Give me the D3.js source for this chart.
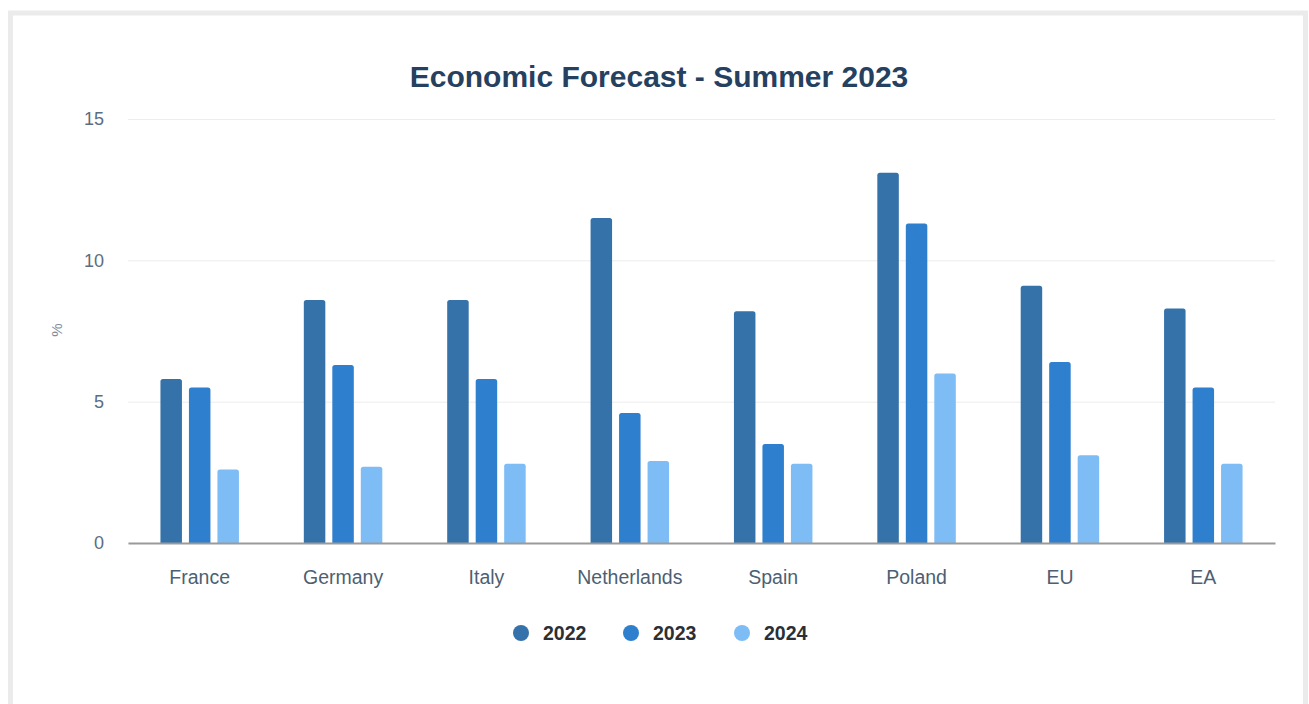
<!DOCTYPE html>
<html>
<head>
<meta charset="utf-8">
<script src="https://cdn.jsdelivr.net/npm/d3@7"></script>
<style>
  body { margin: 0; background: #fff; font-family: "Liberation Sans", Arial, sans-serif; }
  #chart { position: absolute; left: 0; top: 0; }
</style>
</head>
<body>
<div id="chart"></div>
<script>
const categories = ['France', 'Germany', 'Italy', 'Netherlands', 'Spain', 'Poland', 'EU', 'EA'];
const years = ['2022', '2023', '2024'];
const values2022 = [5.8, 8.6, 8.6, 11.5, 8.2, 13.1, 9.1, 8.3];
const values2023 = [5.5, 6.3, 5.8, 4.6, 3.5, 11.3, 6.4, 5.5];
const values2024 = [2.6, 2.7, 2.8, 2.9, 2.8, 6.0, 3.1, 2.8];
const yTicks = [0, 5, 10, 15];
const colors = ['#3572aa', '#2e7fcd', '#7dbcf5'];

const series = [values2022, values2023, values2024];
const data = categories.map((c, i) => ({
    category: c,
    values: years.map((y, j) => ({ year: y, value: series[j][i] }))
}));

const W = 1309, H = 704;
const margin = { top: 119, right: 34, bottom: 161, left: 128 },
      width = W - margin.left - margin.right,
      height = H - margin.top - margin.bottom;

const svg = d3.select('#chart').append('svg')
    .attr('width', W)
    .attr('height', H);

// panel frame
svg.append('rect')
   .attr('x', 10.5).attr('y', 13)
   .attr('width', 1295).attr('height', 720)
   .attr('fill', '#fff')
   .attr('stroke', '#ebebeb')
   .attr('stroke-width', 5);

svg.append('text')
   .attr('x', 659).attr('y', 87)
   .attr('text-anchor', 'middle')
   .attr('font-size', 30)
   .attr('font-weight', 'bold')
   .attr('fill', '#26405f')
   .text('Economic Forecast - Summer 2023');

const g = svg.append('g').attr('transform', `translate(${margin.left},${margin.top})`);

const x0 = d3.scaleBand().domain(categories).range([0, width]).paddingInner(0.4526).paddingOuter(0.2263);
const x1 = d3.scaleBand().domain(years).range([0, x0.bandwidth()]).paddingInner(0.2456).paddingOuter(0);
const y = d3.scaleLinear().domain([0, 15]).range([height, 0]);
const color = d3.scaleOrdinal().domain(years).range(colors);

// gridlines + y labels
const yAxis = g.append('g')
    .call(d3.axisLeft(y).tickValues(yTicks).tickSize(-width).tickPadding(24));
yAxis.select('.domain').remove();
yAxis.selectAll('.tick line').attr('stroke', '#ececec');
yAxis.selectAll('.tick text')
     .attr('fill', '#5b6d82')
     .attr('font-size', 18)
     .attr('font-family', '"Liberation Sans", Arial, sans-serif');

svg.append('text')
   .attr('transform', 'translate(62,330) rotate(-90)')
   .attr('text-anchor', 'middle')
   .attr('font-size', 15)
   .attr('fill', '#7b8a9a')
   .text('%');

// bars
const groups = g.selectAll('.group')
    .data(data)
    .enter().append('g')
      .attr('class', 'group')
      .attr('transform', d => `translate(${x0(d.category)},0)`);

groups.selectAll('path')
    .data(d => d.values)
    .enter().append('path')
      .attr('fill', d => color(d.year))
      .attr('d', d => {
          const bx = x1(d.year), bw = x1.bandwidth(), by = y(d.value), r = 2.5;
          return `M${bx},${height}V${by + r}Q${bx},${by} ${bx + r},${by}H${bx + bw - r}Q${bx + bw},${by} ${bx + bw},${by + r}V${height}Z`;
      });

// x axis
const xAxis = g.append('g')
    .attr('transform', `translate(0,${height})`)
    .call(d3.axisBottom(x0).tickSize(0).tickPadding(27));
xAxis.select('.domain').attr('stroke', '#9a9a9a').attr('stroke-width', 2);
xAxis.selectAll('.tick text')
     .attr('fill', '#4d5f73')
     .attr('font-size', 19.5)
     .attr('font-family', '"Liberation Sans", Arial, sans-serif');

// legend
const legendX = [521, 631, 742];
const legend = svg.append('g');
years.forEach((yr, i) => {
    legend.append('circle')
          .attr('cx', legendX[i]).attr('cy', 633).attr('r', 8)
          .attr('fill', colors[i]);
    legend.append('text')
          .attr('x', legendX[i] + 22).attr('y', 640)
          .attr('font-size', 19.5)
          .attr('font-weight', 'bold')
          .attr('fill', '#2b2f36')
          .text(yr);
});
</script>
</body>
</html>
